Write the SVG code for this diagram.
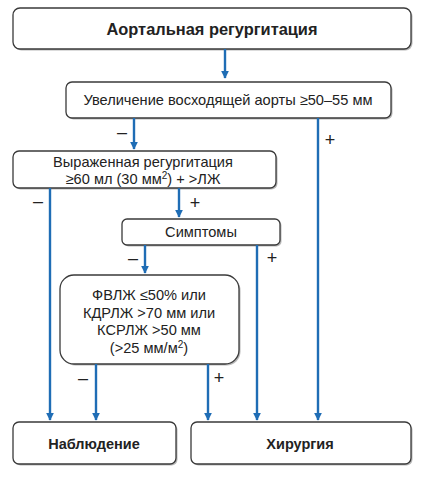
<svg xmlns="http://www.w3.org/2000/svg" width="424" height="478" viewBox="0 0 424 478">
<style>
.box{fill:#fff;stroke:#3a3a3a;stroke-width:1.3}
.sh{fill:#b8b8b8}
.t{font-family:"Liberation Sans",Arial,sans-serif;font-size:14.6px;fill:#222;text-anchor:middle}
.b{font-weight:bold;font-size:14.5px}
.c{stroke:#1f6db5;stroke-width:2.4;fill:none}
.lb{font-family:"Liberation Sans",Arial,sans-serif;font-size:18px;fill:#222;text-anchor:middle}
</style>
<defs>
<marker id="ah" viewBox="0 0 10 10" refX="9" refY="5" markerWidth="3.2" markerHeight="3.2" orient="auto" markerUnits="strokeWidth">
<path d="M0,0 L10,5 L0,10 Z" fill="#1f6db5"/>
</marker>
</defs>
<rect width="424" height="478" fill="#fff"/>
<g id="n1"><rect class="sh" x="14.5" y="9.5" width="398" height="41" rx="7"/><rect class="box" x="13" y="8" width="398" height="41" rx="7"/><text class="t b" x="212" y="35" style="font-size:16.4px">Аортальная регургитация</text></g>
<g id="n2"><rect class="sh" x="67.5" y="83.5" width="325" height="36" rx="6"/><rect class="box" x="66" y="82" width="325" height="36" rx="6"/><text class="t" x="228" y="105">Увеличение восходящей аорты ≥50–55 мм</text></g>
<g id="n3"><rect class="sh" x="14.5" y="152.5" width="263" height="37" rx="6"/><rect class="box" x="13" y="151" width="263" height="37" rx="6"/><text class="t" x="143" y="167">Выраженная регургитация</text><text class="t" x="143" y="184">≥60 мл (30 мм<tspan font-size="10" dy="-5">2</tspan><tspan dy="5">) + &gt;ЛЖ</tspan></text></g>
<g id="n4"><rect class="sh" x="123.5" y="220.5" width="158" height="26" rx="5"/><rect class="box" x="122" y="219" width="158" height="26" rx="5"/><text class="t" x="201" y="237">Симптомы</text></g>
<g id="n5"><rect class="sh" x="61.5" y="276.5" width="179" height="89" rx="14"/><rect class="box" x="60" y="275" width="179" height="89" rx="14"/><text class="t" x="149" y="300">ФВЛЖ ≤50% или</text><text class="t" x="149" y="318">КДРЛЖ &gt;70 мм или</text><text class="t" x="149" y="335">КСРЛЖ &gt;50 мм</text><text class="t" x="149" y="353">(&gt;25 мм/м<tspan font-size="10" dy="-5">2</tspan><tspan dy="5">)</tspan></text></g>
<g id="n6"><rect class="sh" x="14.5" y="423.5" width="163" height="42" rx="6"/><rect class="box" x="13" y="422" width="163" height="42" rx="6"/><text class="t b" x="94" y="449">Наблюдение</text></g>
<g id="n7"><rect class="sh" x="192.5" y="423.5" width="220" height="42" rx="6"/><rect class="box" x="191" y="422" width="220" height="42" rx="6"/><text class="t b" x="300" y="449">Хирургия</text></g>
<g id="connectors">
<line class="c" x1="225" y1="49" x2="225" y2="78" marker-end="url(#ah)"/>
<line class="c" x1="134" y1="118" x2="134" y2="149" marker-end="url(#ah)"/>
<line class="c" x1="318" y1="118" x2="318" y2="420" marker-end="url(#ah)"/>
<line class="c" x1="50" y1="188" x2="50" y2="420" marker-end="url(#ah)"/>
<line class="c" x1="179" y1="188" x2="179" y2="217" marker-end="url(#ah)"/>
<line class="c" x1="257" y1="245" x2="257" y2="420" marker-end="url(#ah)"/>
<line class="c" x1="145" y1="245" x2="145" y2="273" marker-end="url(#ah)"/>
<line class="c" x1="96" y1="364" x2="96" y2="420" marker-end="url(#ah)"/>
<line class="c" x1="208" y1="364" x2="208" y2="420" marker-end="url(#ah)"/>
<text class="lb" x="122" y="138">–</text>
<text class="lb" x="330" y="146">+</text>
<text class="lb" x="38" y="207">–</text>
<text class="lb" x="195" y="209">+</text>
<text class="lb" x="133" y="264">–</text>
<text class="lb" x="272" y="264">+</text>
<text class="lb" x="83" y="384">–</text>
<text class="lb" x="219" y="384">+</text>
</g>
</svg>
